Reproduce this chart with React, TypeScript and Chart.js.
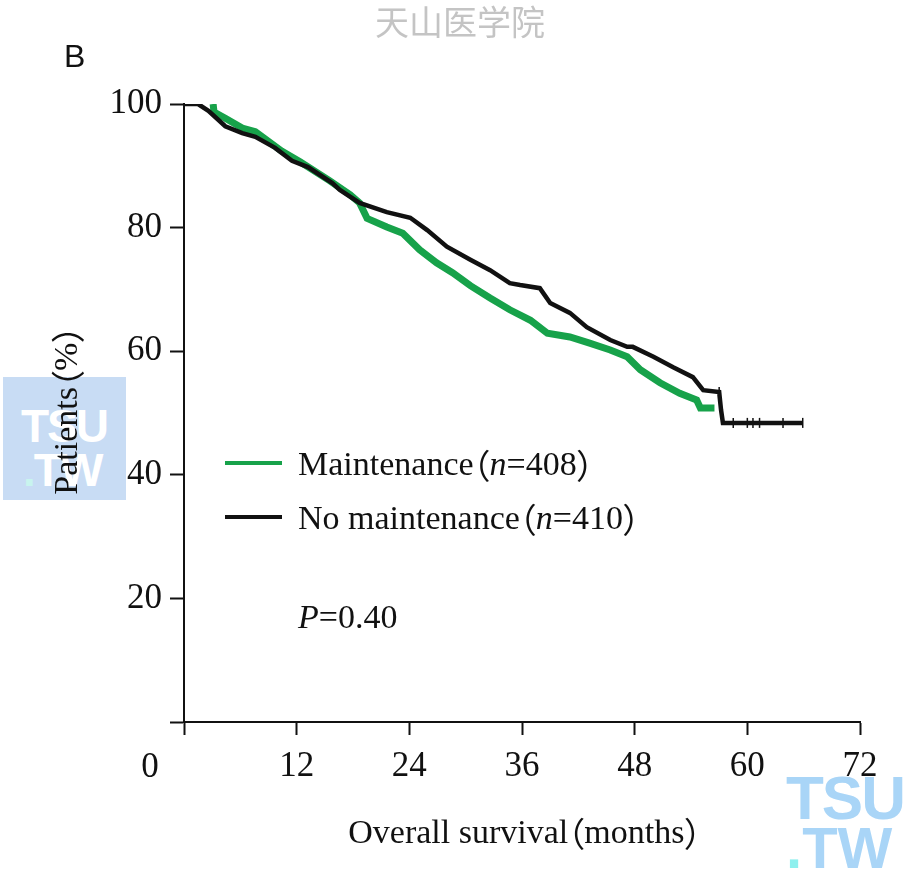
import React, { useEffect, useRef } from 'react';
import { Chart, registerables } from 'chart.js';

Chart.register(...registerables);

// ---- data ----
const xTickValues = [0, 12, 24, 36, 48, 60, 72];
const yTickValues = [0, 20, 40, 60, 80, 100];

const noMaintMonths = [0, 1.5, 2.6, 4.4, 6.2, 7.6, 9.7, 11.5, 13.2, 15.8, 16.6, 18.7, 21.6, 24.1, 25.9, 28.0, 30.5, 32.6, 34.7, 35.8, 37.9, 39.0, 41.1, 42.9, 45.4, 47.2, 47.8, 50.0, 52.1, 54.2, 55.3, 57.0, 57.2, 57.4, 65.9];
const noMaintPct = [100, 100, 98.9, 96.4, 95.3, 94.7, 92.9, 90.8, 89.8, 87.2, 86.1, 84.0, 82.5, 81.6, 79.6, 76.9, 74.8, 73.1, 71.0, 70.7, 70.2, 67.8, 66.2, 63.9, 61.8, 60.7, 60.7, 59.1, 57.4, 55.8, 53.7, 53.4, 50.5, 48.4, 48.4];

const noMaintCensorMonths = [57.0, 58.5, 60.0, 60.6, 61.3, 63.8, 65.9];
const noMaintCensorPct = [53.4, 48.4, 48.4, 48.4, 48.4, 48.4, 48.4];

const maintMonths = [3.1, 3.2, 4.4, 6.2, 7.6, 10.4, 12.4, 15.5, 17.7, 18.7, 19.5, 21.6, 23.3, 25.1, 26.9, 28.6, 30.5, 32.6, 34.7, 36.9, 38.7, 41.1, 43.2, 45.4, 47.2, 48.6, 50.7, 52.8, 54.6, 55.0, 56.5];
const maintPct = [100, 98.7, 97.7, 96.1, 95.5, 92.4, 90.6, 87.6, 85.3, 84.0, 81.5, 80.1, 79.1, 76.4, 74.3, 72.7, 70.6, 68.6, 66.7, 65.0, 62.9, 62.3, 61.3, 60.2, 59.1, 57.0, 54.9, 53.2, 52.1, 50.8, 50.8];

const seriesNames = ['Maintenance', 'No maintenance'];
const seriesN = ['408', '410'];
const pValueText = '0.40';

const GREEN = '#17a24a';
const BLACK = '#111111';
const SERIF = '"Liberation Serif", "Times New Roman", serif';
const TEXT_SIZE = 34;

const toPoints = (xs: number[], ys: number[]) => xs.map((x, i) => ({ x, y: ys[i] }));

type Run = { t: string; italic?: boolean };

const fontFor = (r: Run, size: number) => {
  if (r.t === '（' || r.t === '）') return `${size}px "Noto Sans CJK SC", ${SERIF}`;
  return `${r.italic ? 'italic ' : ''}${size}px ${SERIF}`;
};

// full-width parentheses drawn with compressed side bearings
const runGeom = (ctx: any, r: Run, size: number) => {
  ctx.font = fontFor(r, size);
  const w = ctx.measureText(r.t).width;
  if (r.t === '（') return { dx: -0.5 * size, adv: w - 0.53 * size };
  if (r.t === '）') return { dx: -0.02 * size, adv: w - 0.55 * size };
  return { dx: 0, adv: w };
};

const measureRuns = (ctx: any, runs: Run[], size: number) =>
  runs.reduce((s, r) => s + runGeom(ctx, r, size).adv, 0);

const drawRuns = (ctx: any, runs: Run[], x: number, y: number, size: number) => {
  let cx = x;
  ctx.textAlign = 'left';
  for (const r of runs) {
    const g = runGeom(ctx, r, size);
    ctx.font = fontFor(r, size);
    ctx.fillText(r.t, cx + g.dx, y);
    cx += g.adv;
  }
};

const overlayPlugin = {
  id: 'overlayText',
  afterDraw(chart: any) {
    const { ctx, chartArea, scales } = chart;
    const xs = scales.x;
    const ys = scales.y;
    ctx.save();
    ctx.fillStyle = BLACK;
    ctx.textBaseline = 'middle';

    // shared origin "0"
    ctx.font = `35px ${SERIF}`;
    ctx.textAlign = 'center';
    ctx.fillText('0', xs.getPixelForValue(0) - 34, chartArea.bottom + 46);

    // x title
    const xTitle: Run[] = [{ t: 'Overall survival' }, { t: '（' }, { t: 'months' }, { t: '）' }];
    const xtw = measureRuns(ctx, xTitle, TEXT_SIZE);
    drawRuns(ctx, xTitle, (xs.getPixelForValue(0) + xs.getPixelForValue(72)) / 2 - xtw / 2 + 2, chartArea.bottom + 112, TEXT_SIZE);

    // y title (rotated)
    const yTitle: Run[] = [{ t: 'Patients' }, { t: '（' }, { t: '%' }, { t: '）' }];
    const ytw = measureRuns(ctx, yTitle, TEXT_SIZE);
    ctx.save();
    ctx.translate(68, ys.getPixelForValue(50) - 2);
    ctx.rotate(-Math.PI / 2);
    drawRuns(ctx, yTitle, -ytw / 2, 0, TEXT_SIZE);
    ctx.restore();

    // legend
    const lx = chartArea.left + 41;
    const colors = [GREEN, BLACK];
    const rowY = [chartArea.top + 362, chartArea.top + 416];
    for (let i = 0; i < 2; i++) {
      ctx.strokeStyle = colors[i];
      ctx.lineWidth = 4;
      ctx.beginPath();
      ctx.moveTo(lx, rowY[i] - 3);
      ctx.lineTo(lx + 57, rowY[i] - 3);
      ctx.stroke();
      ctx.fillStyle = BLACK;
      drawRuns(ctx, [
        { t: seriesNames[i] },
        { t: '（' },
        { t: 'n', italic: true },
        { t: '=' + seriesN[i] },
        { t: '）' },
      ], lx + 73, rowY[i], TEXT_SIZE);
    }
    drawRuns(ctx, [{ t: 'P', italic: true }, { t: '=' + pValueText }], lx + 73, chartArea.top + 515, TEXT_SIZE);

    // panel letter
    ctx.font = '32px "Liberation Sans", Arial, sans-serif';
    ctx.textAlign = 'left';
    ctx.fillText('B', 64, 58);

    // watermark
    ctx.fillStyle = '#c4c4c4';
    ctx.font = '34px "Noto Sans CJK SC", sans-serif';
    ctx.textAlign = 'center';
    ctx.fillText('天山医学院', 460, 22);
    ctx.restore();
  },
};

export default function App() {
  const ref = useRef<HTMLCanvasElement | null>(null);
  useEffect(() => {
    if (!ref.current) return;
    const chart = new Chart(ref.current, {
      type: 'line',
      data: {
        datasets: [
          {
            label: seriesNames[1],
            data: toPoints(noMaintMonths, noMaintPct),
            borderColor: BLACK,
            borderWidth: 4.5,
            pointRadius: 0,
            tension: 0,
            fill: false,
            order: 0,
          },
          {
            label: 'censor',
            data: toPoints(noMaintCensorMonths, noMaintCensorPct),
            showLine: false,
            pointStyle: 'line',
            rotation: 90,
            pointRadius: 5,
            pointBorderWidth: 1.5,
            pointBorderColor: BLACK,
            borderColor: BLACK,
            order: 0,
          },
          {
            label: seriesNames[0],
            data: toPoints(maintMonths, maintPct),
            borderColor: GREEN,
            borderWidth: 7,
            pointRadius: 0,
            tension: 0,
            fill: false,
            order: 1,
          },
        ],
      },
      options: {
        animation: false,
        responsive: false,
        maintainAspectRatio: false,
        layout: { padding: { left: 0, right: 56, top: 104, bottom: 0 } },
        plugins: { legend: { display: false }, tooltip: { enabled: false }, title: { display: false } },
        scales: {
          x: {
            type: 'linear',
            min: 0,
            max: 72,
            afterFit: (s: any) => { s.height = 155; },
            afterBuildTicks: (s: any) => { s.ticks = xTickValues.map((v) => ({ value: v })); },
            ticks: {
              callback: (v: any) => (v === 0 ? '' : String(v)),
              font: { family: SERIF, size: 35 },
              color: BLACK,
              padding: 11,
              maxRotation: 0,
              autoSkip: false,
            },
            grid: { display: true, drawOnChartArea: false, drawTicks: true, tickLength: 13, tickWidth: 2, tickColor: BLACK },
            border: { display: true, color: BLACK, width: 2 },
          },
          y: {
            type: 'linear',
            min: 0,
            max: 100,
            afterFit: (s: any) => { s.width = 184; },
            afterBuildTicks: (s: any) => { s.ticks = yTickValues.map((v) => ({ value: v })); },
            ticks: {
              callback: (v: any) => (v === 0 ? '' : String(v)),
              font: { family: SERIF, size: 35 },
              color: BLACK,
              padding: 8,
              autoSkip: false,
            },
            grid: { display: true, drawOnChartArea: false, drawTicks: true, tickLength: 14, tickWidth: 2, tickColor: BLACK },
            border: { display: true, color: BLACK, width: 2 },
          },
        },
      },
      plugins: [overlayPlugin],
    });
    return () => chart.destroy();
  }, []);

  return (
    <div style={{ position: 'absolute', left: 0, top: 0, width: 916, height: 877, background: '#fff', overflow: 'hidden' }}>
      <div style={{ position: 'absolute', left: 3, top: 377, width: 123, height: 123, background: '#c8dcf4' }}>
        <div style={{ position: 'absolute', left: 18, top: 22, font: 'bold 46px "Liberation Sans", Arial, sans-serif', color: '#fff', letterSpacing: -2 }}>TSU</div>
        <div style={{ position: 'absolute', left: 20, top: 66, font: 'bold 46px "Liberation Sans", Arial, sans-serif', color: '#fff', letterSpacing: -2 }}>
          <span style={{ color: '#c8f4ee' }}>.</span>TW
        </div>
      </div>
      <div style={{ position: 'absolute', left: 786, top: 762, font: 'bold 62px "Liberation Sans", Arial, sans-serif', color: '#a9d5f7', letterSpacing: -2 }}>TSU</div>
      <div style={{ position: 'absolute', left: 786, top: 814, font: 'bold 58px "Liberation Sans", Arial, sans-serif', color: '#a9d5f7', letterSpacing: 0 }}>
        <span style={{ color: '#8ef0ee' }}>.</span>TW
      </div>
      <canvas ref={ref} width={916} height={877} style={{ position: 'absolute', left: 0, top: 0, width: 916, height: 877 }} />
    </div>
  );
}
